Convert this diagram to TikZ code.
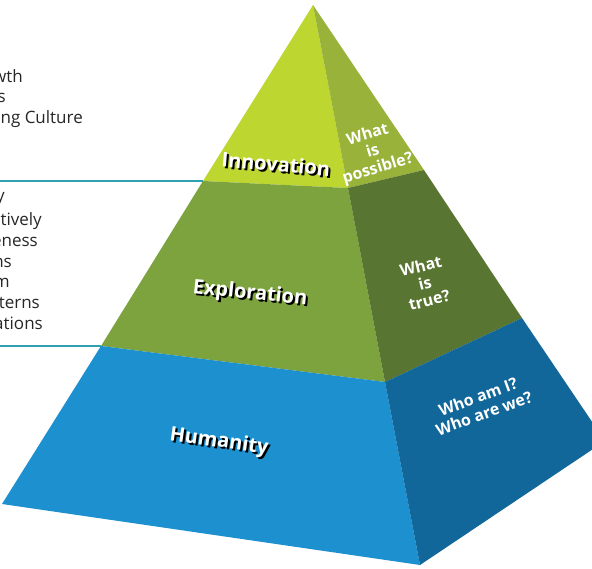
\documentclass[tikz,border=0pt]{standalone}
\usepackage{fontspec}
\setsansfont{Open Sans}
\renewcommand{\familydefault}{\sfdefault}

\definecolor{innofront}{RGB}{190,214,48}
\definecolor{innoside}{RGB}{152,178,58}
\definecolor{explfront}{RGB}{124,163,62}
\definecolor{explside}{RGB}{88,117,50}
\definecolor{humfront}{RGB}{29,145,207}
\definecolor{humside}{RGB}{17,103,153}
\definecolor{noteline}{RGB}{50,158,178}

\begin{document}
\begin{tikzpicture}[x=1pt,y=-1pt,
			tier label/.style={font=\fontsize{20}{20}\selectfont\bfseries,text=white,inner sep=0pt},
			tier shadow/.style={tier label,text=black},
			face label/.style={font=\fontsize{16}{17.5}\selectfont\bfseries,text=white,align=center,inner sep=0pt},
			note text/.style={font=\fontsize{17}{17}\selectfont,text=black!85,anchor=base east,inner sep=0pt},
			note line/.style={draw=noteline,line width=1.5pt}
			]
			
			\useasboundingbox (0,0) rectangle (592,568);
			\clip (0,0) rectangle (592,568);
			
			% corners of the pyramid
			\coordinate (apex) at (313,5);
			\coordinate (left) at (2,504);
			\coordinate (front) at (420,565);
			\coordinate (right) at (605,441);
			% where the tiers meet
			\coordinate (il) at (203,181);
			\coordinate (if) at (348,188);
			\coordinate (ir) at (424,170);
			\coordinate (el) at (101,346);
			\coordinate (ef) at (385,382);
			\coordinate (er) at (522,318);
			
			\fill[innofront] (apex) -- (il) -- (if) -- cycle;
			\fill[innoside] (apex) -- (if) -- (ir) -- cycle;
			\fill[explfront] (il) -- (el) -- (ef) -- (if) -- cycle;
			\fill[explside] (if) -- (ef) -- (er) -- (ir) -- cycle;
			\fill[humfront] (el) -- (left) -- (front) -- (ef) -- cycle;
			\fill[humside] (ef) -- (front) -- (right) -- (er) -- cycle;
			
			% lines out to the notes
			\coordinate (innonote) at (0,181);
			\coordinate (explnote) at (0,346);
			\draw[note line] (innonote) -- (il);
			\draw[note line] (explnote) -- (el);
			
			\foreach \txt/\x/\y [count=\i] in {wth/23/82, s/6/102, ng Culture/83/123} {
				\node[note text] (innotext\i) at (\x,\y) {\txt};
			}
			\foreach \txt/\x/\y [count=\i] in {y/5/201, tively/42/225, eness/38/246, ns/12/267, m/10/287, terns/40/308, ations/43/329} {
				\node[note text] (expltext\i) at (\x,\y) {\txt};
			}
			
			% tier names with their shadows
			\node[tier shadow,rotate=-5] (innoshadow) at (278,166) {Innovation};
			\node[tier label,rotate=-5] (innolabel) at (276,164) {Innovation};
			\node[tier shadow,rotate=-6] (explshadow) at (252,296) {Exploration};
			\node[tier label,rotate=-6] (expllabel) at (250,294) {Exploration};
			\node[tier shadow,rotate=-8] (humshadow) at (221,444) {Humanity};
			\node[tier label,rotate=-8] (humlabel) at (219,442) {Humanity};
			
			% questions on the side
			\node[face label,rotate=17] (innoquestion) at (373,152) {What\\is\\possible?};
			\node[face label,rotate=14] (explquestion) at (425,283) {What\\is\\true?};
			\node[face label,rotate=20] (humquestion) at (481,405) {Who am I?\\Who are we?};
			
\end{tikzpicture}
\end{document}
